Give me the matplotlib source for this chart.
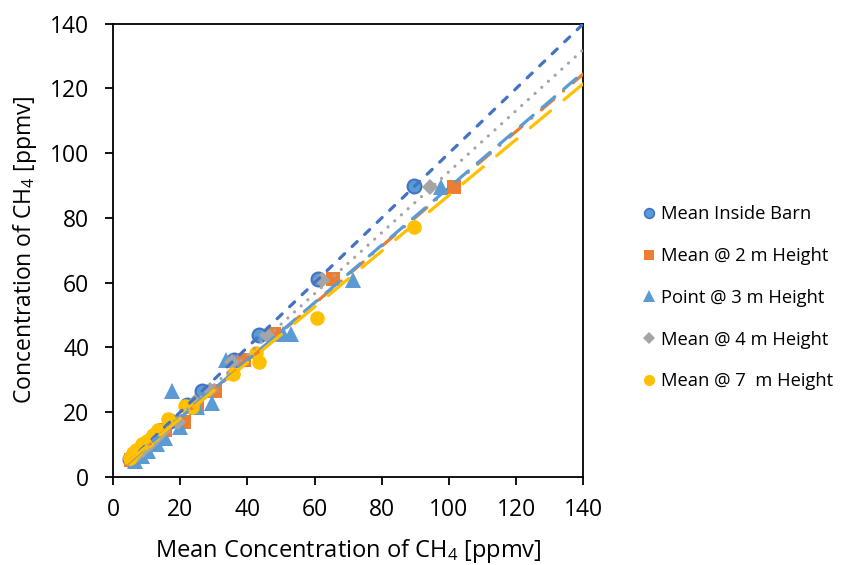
import numpy as np
import matplotlib
matplotlib.use('Agg')
import matplotlib.pyplot as plt
from matplotlib.lines import Line2D

plt.rcParams['font.family'] = ['Open Sans', 'DejaVu Sans']
plt.rcParams['mathtext.default'] = 'regular'
plt.rcParams['lines.scale_dashes'] = False

# series data
barn_x = [5.2, 6.0, 7.0, 8.5, 10.0, 12.0, 13.5, 17.0, 22.0, 26.5, 36.0, 43.6, 61.0, 89.7]
barn_y = [5.5, 6.2, 7.0, 8.3, 10.0, 12.3, 13.8, 17.2, 22.3, 26.5, 36.2, 43.8, 61.2, 89.8]

h2_x = [5.5, 6.5, 8.0, 9.5, 11.5, 13.0, 15.5, 21.0, 25.0, 30.5, 39.0, 48.0, 65.5, 101.5]
h2_y = [5.2, 6.0, 7.0, 8.5, 10.5, 12.5, 14.5, 17.0, 22.0, 26.5, 36.0, 44.0, 61.0, 89.7]

h3_x = [6.5, 8.5, 10.5, 13.0, 15.5, 17.5, 20.0, 25.0, 29.4, 33.5, 50.5, 53.0, 71.5, 97.5]
h3_y = [5.0, 6.5, 8.0, 10.0, 12.0, 26.5, 15.5, 21.5, 22.7, 36.0, 44.0, 44.0, 60.8, 89.7]

h4_x = [5.3, 6.3, 7.5, 9.0, 11.0, 13.0, 15.0, 19.5, 24.4, 28.9, 35.4, 45.8, 62.2, 94.5]
h4_y = [5.4, 6.1, 7.0, 8.4, 10.2, 12.4, 14.2, 17.1, 23.0, 26.8, 35.5, 43.9, 60.9, 89.7]

h7_x = [5.0, 6.0, 7.0, 8.5, 10.0, 12.0, 13.5, 16.5, 21.5, 23.4, 35.8, 42.5, 43.6, 60.8, 89.5]
h7_y = [5.8, 7.3, 8.2, 10.0, 11.0, 13.0, 14.5, 18.0, 22.0, 21.7, 31.8, 38.3, 35.5, 49.0, 77.3]

# linear trendlines (slope, intercept)
barn_fit = (1.0, 0.0)
h2_fit = (0.887, 0.3)
h3_fit = (0.890, 0.4)
h4_fit = (0.943, 0.0)
h7_fit = (0.862, 0.8)

labels = ['Mean Inside Barn', 'Mean @ 2 m Height', 'Point @ 3 m Height',
          'Mean @ 4 m Height', 'Mean @ 7  m Height']

fig = plt.figure(figsize=(8.43, 5.65), dpi=100)
ax = fig.add_axes([0.134, 0.156, 0.558, 0.802])

ax.plot(barn_x, barn_y, 'o', ms=10, mfc='#5B9BD5', mec='#4472C4', mew=1.5, zorder=2)
ax.plot(h2_x, h2_y, 's', ms=9.5, color='#ED7D31', mew=0, zorder=2)
ax.plot(h3_x, h3_y, '^', ms=11, color='#5B9BD5', mew=0, zorder=2)
ax.plot(h4_x, h4_y, 'D', ms=8, color='#A5A5A5', mew=0, zorder=2)
ax.plot(h7_x, h7_y, 'o', ms=10.5, color='#FFC000', mew=0, zorder=2)

fits = [
    (barn_x, barn_fit, '#4472C4', (0, (5, 7.5))),
    (h4_x, h4_fit, '#A5A5A5', (0, (0.1, 6.4))),
    (h2_x, h2_fit, '#ED7D31', (0, (12, 9, 0.1, 9))),
    (h3_x, h3_fit, '#5B9BD5', (0, (12, 8.5))),
    (h7_x, h7_fit, '#FFC000', (0, (19, 12.5))),
]
for xs, (m, b), col, ls in fits:
    xx = np.array([min(xs) - 1, 140])
    ax.plot(xx, m * xx + b, color=col, lw=2.3, linestyle=ls,
            dash_capstyle='round', zorder=3)

ax.set_xlim(0, 140)
ax.set_ylim(0, 140)
ax.set_xticks(np.arange(0, 141, 20))
ax.set_yticks(np.arange(0, 141, 20))
ax.tick_params(direction='out', length=6, width=1.3, labelsize=16.5, colors='black')
ax.tick_params(axis='x', pad=9)
ax.tick_params(axis='y', pad=11)
for s in ax.spines.values():
    s.set_linewidth(1.3)
    s.set_color('black')
ax.tick_params(top=False, right=False)

ax.set_xlabel('Mean Concentration of CH$_4$ [ppmv]', fontsize=17, labelpad=11)
ax.set_ylabel('Concentration of CH$_4$ [ppmv]', fontsize=16.5, labelpad=8)

handles = [
    Line2D([], [], ls='none', marker='o', ms=7, mfc='#5B9BD5', mec='#4472C4', mew=1.2),
    Line2D([], [], ls='none', marker='s', ms=7, color='#ED7D31', mew=0),
    Line2D([], [], ls='none', marker='^', ms=8, color='#5B9BD5', mew=0),
    Line2D([], [], ls='none', marker='D', ms=6, color='#A5A5A5', mew=0),
    Line2D([], [], ls='none', marker='o', ms=8, color='#FFC000', mew=0),
]
fig.legend(handles, labels, loc='center left', bbox_to_anchor=(0.752, 0.473),
           frameon=False, fontsize=13.2, labelspacing=1.3, handlelength=0.6,
           handletextpad=0.4, borderpad=0)

fig.savefig('out.png', dpi=100)
